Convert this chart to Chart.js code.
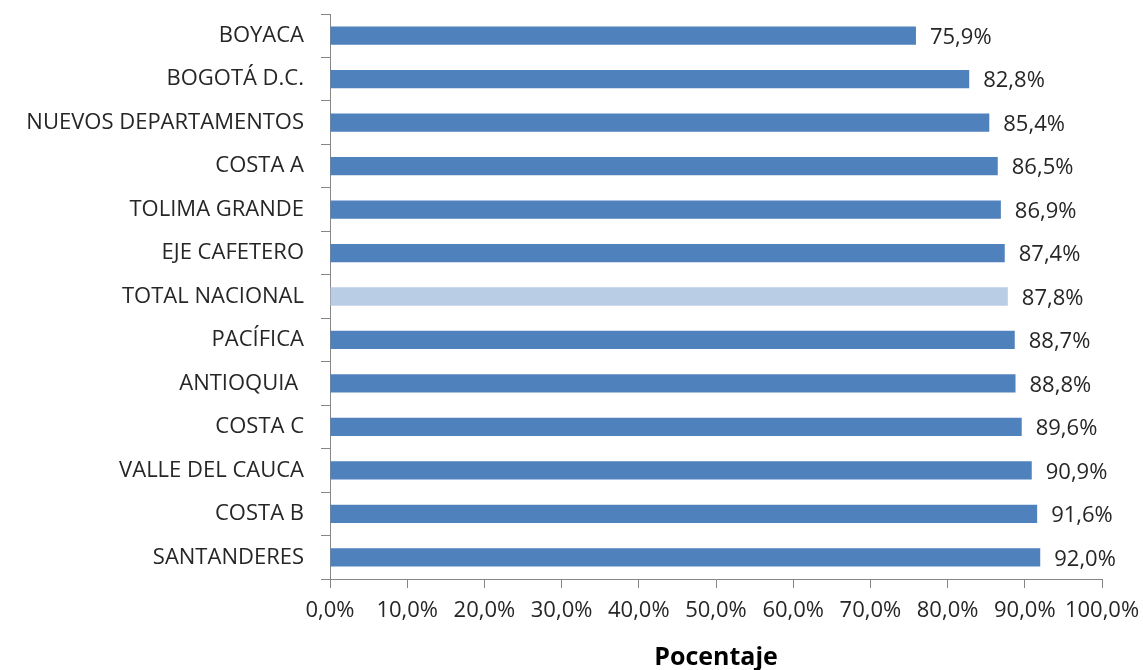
<!DOCTYPE html>
<html><head><meta charset="utf-8">
<script src="https://cdn.jsdelivr.net/npm/chart.js@4/dist/chart.umd.min.js"></script>
<style>html,body{margin:0;padding:0;background:#fff}#wrap{width:1143px;height:670px}</style>
</head><body><div id="wrap"><canvas id="c" width="1143" height="670"></canvas></div>
<script>
const categories = ["BOYACA","BOGOTÁ D.C.","NUEVOS DEPARTAMENTOS","COSTA A","TOLIMA GRANDE","EJE CAFETERO","TOTAL NACIONAL","PACÍFICA","ANTIOQUIA ","COSTA C","VALLE DEL CAUCA","COSTA B","SANTANDERES"];
const values = [75.9,82.8,85.4,86.5,86.9,87.4,87.8,88.7,88.8,89.6,90.9,91.6,92.0];
const xTicks = [0,10,20,30,40,50,60,70,80,90,100];
const highlight = "TOTAL NACIONAL";
const axisTitle = "Pocentaje";

const FONT = "'Open Sans', Lato, sans-serif";
const fmt = v => v.toFixed(1).replace('.', ',') + '%';

const valueLabels = {
  id: 'valueLabels',
  afterDatasetsDraw(chart) {
    const ctx = chart.ctx;
    const meta = chart.getDatasetMeta(0);
    ctx.save();
    ctx.font = "22px " + FONT;
    ctx.fillStyle = "#262626";
    ctx.textAlign = "left";
    ctx.textBaseline = "middle";
    meta.data.forEach((bar, i) => {
      ctx.fillText(fmt(values[i]), bar.x + 14, bar.y + 2);
    });
    ctx.restore();
  }
};

new Chart(document.getElementById('c'), {
  type: 'bar',
  data: {
    labels: categories,
    datasets: [{
      data: values,
      backgroundColor: categories.map(c => c === highlight ? '#B9CDE5' : '#4F81BD'),
      borderWidth: 0,
      barPercentage: 0.42,
      categoryPercentage: 1.0
    }]
  },
  options: {
    indexAxis: 'y',
    responsive: false,
    animation: false,
    layout: { padding: { left: 0, right: 41, top: 14, bottom: 0 } },
    plugins: { legend: { display: false }, tooltip: { enabled: false } },
    scales: {
      x: {
        min: 0, max: 100,
        afterBuildTicks: s => { s.ticks = xTicks.map(v => ({ value: v })); },
        afterFit: s => { s.height = 91; s.paddingLeft = 0; s.paddingRight = 0; },
        grid: { display: true, drawOnChartArea: false, drawTicks: true, tickLength: 9, color: '#868686' },
        border: { display: true, color: '#868686', width: 1 },
        ticks: { color: '#262626', font: { family: FONT, size: 22 }, padding: 10, maxRotation: 0, autoSkip: false, callback: v => fmt(v) },
        title: { display: true, text: axisTitle, color: '#000', font: { family: FONT, size: 25, weight: 'bold' }, padding: { top: 0, bottom: -3 } }
      },
      y: {
        afterFit: s => { s.width = 330; s.paddingTop = 0; s.paddingBottom = 0; },
        grid: { display: true, drawOnChartArea: false, drawTicks: true, tickLength: 9, color: '#868686', offset: true },
        border: { display: true, color: '#868686', width: 1 },
        ticks: { color: '#262626', font: { family: FONT, size: 22 }, padding: 17 }
      }
    }
  },
  plugins: [valueLabels]
});
</script></body></html>
